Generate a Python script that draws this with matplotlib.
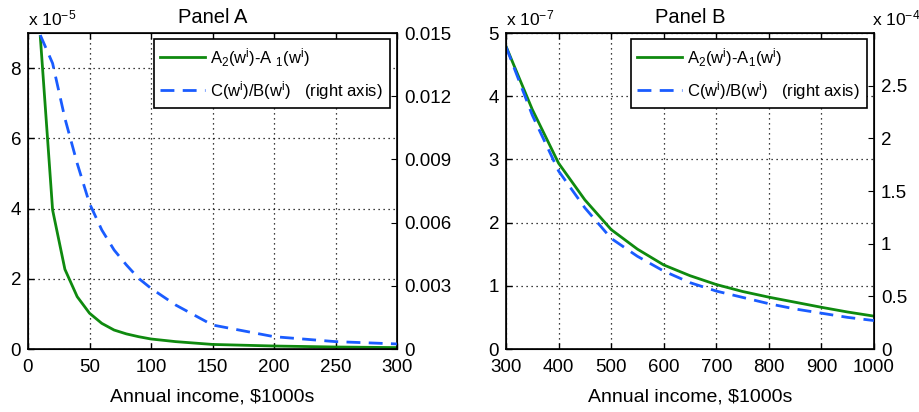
import matplotlib
matplotlib.use("Agg")
import matplotlib.pyplot as plt

plt.rcParams['font.family'] = ['Liberation Sans', 'DejaVu Sans']
plt.rcParams['mathtext.fontset'] = 'custom'
plt.rcParams['mathtext.rm'] = 'Liberation Sans'
plt.rcParams['mathtext.it'] = 'Liberation Sans'

# Panel A data (income in $1000s)
xa = [10, 20, 30, 40, 50, 60, 70, 80, 90, 100, 120, 150, 200, 250, 300]
ya_green = [8.9, 3.96, 2.27, 1.49, 1.02, 0.73, 0.54, 0.43, 0.35, 0.285, 0.21, 0.13, 0.085, 0.057, 0.04]  # x 1e-5
ya_blue = [0.0149, 0.01356, 0.01095, 0.00881, 0.00691, 0.00565, 0.0047, 0.00399, 0.00335, 0.00288,
           0.00209, 0.00114, 0.000585, 0.00035, 0.00024]

# Panel B data
xb = [300, 350, 400, 450, 500, 550, 600, 650, 700, 750, 800, 850, 900, 950, 1000]
yb_green = [4.79, 3.79, 2.94, 2.36, 1.89, 1.58, 1.33, 1.16, 1.02, 0.91, 0.82, 0.74, 0.66, 0.585, 0.52]  # x 1e-7
yb_blue = [2.87, 2.22, 1.69, 1.34, 1.05, 0.88, 0.74, 0.63, 0.55, 0.49, 0.43, 0.38, 0.34, 0.30, 0.27]  # x 1e-4

GREEN = '#0f8a0f'
BLUE = '#1a5cff'
FS = 13.5

fig = plt.figure(figsize=(9.2, 4.12), dpi=100)

def style(ax):
    ax.tick_params(axis='both', direction='in', length=4, labelsize=FS, width=1)
    ax.tick_params(axis='x', top=True, pad=7)
    ax.tick_params(axis='y', right=True, pad=5)
    for s in ax.spines.values():
        s.set_linewidth(1.2)

def legend(ax, h, l):
    leg = ax.legend(h, l, loc='upper right', bbox_to_anchor=(0.98, 0.98), fontsize=12,
                    frameon=True, fancybox=False, edgecolor='black', framealpha=1, handlelength=2.7,
                    handletextpad=0.3, borderpad=0.4, labelspacing=0.6, borderaxespad=0)
    leg.get_frame().set_linewidth(1.2)
    return leg

# ---------- Panel A ----------
axA = fig.add_axes([28/920, 1-349/412, (397-28)/920, (349-33)/412])
axA.plot(xa, ya_green, color=GREEN, lw=2, label=r'A$_2$(w$^\mathrm{i}$)-A $_1$(w$^\mathrm{i}$)')
axA.set_xlim(0, 300)
axA.set_ylim(0, 9)
axA.set_xticks([0, 50, 100, 150, 200, 250, 300])
axA.set_yticks([0, 2, 4, 6, 8])
axA.grid(True, linestyle=(0, (1, 3)), color='black', lw=0.9)
style(axA)
axA.set_xlabel('Annual income, $1000s', fontsize=FS+0.5, labelpad=9)
axA.set_title('Panel A', fontsize=FS+1, pad=7)
axA.text(0, 1.015, r'x 10$^{-5}$', transform=axA.transAxes, fontsize=FS-1, ha='left', va='bottom')
axA2 = axA.twinx()
axA2.plot(xa, ya_blue, color=BLUE, lw=2, dashes=(5, 3), label=r'C(w$^\mathrm{i}$)/B(w$^\mathrm{i}$)   (right axis)')
axA2.set_ylim(0, 0.015)
axA2.set_yticks([0, 0.003, 0.006, 0.009, 0.012, 0.015])
axA2.set_yticklabels(['0', '0.003', '0.006', '0.009', '0.012', '0.015'])
axA2.tick_params(direction='in', length=4, labelsize=FS, pad=5)
h1, l1 = axA.get_legend_handles_labels()
h2, l2 = axA2.get_legend_handles_labels()
legend(axA2, h1 + h2, l1 + l2)

# ---------- Panel B ----------
axB = fig.add_axes([506/920, 1-349/412, (874-506)/920, (349-33)/412])
axB.plot(xb, yb_green, color=GREEN, lw=2, label=r'A$_2$(w$^\mathrm{i}$)-A$_1$(w$^\mathrm{i}$)')
axB.set_xlim(300, 1000)
axB.set_ylim(0, 5)
axB.set_xticks(range(300, 1001, 100))
axB.set_yticks([0, 1, 2, 3, 4, 5])
axB.grid(True, linestyle=(0, (1, 3)), color='black', lw=0.9)
style(axB)
axB.set_xlabel('Annual income, $1000s', fontsize=FS+0.5, labelpad=9)
axB.set_title('Panel B', fontsize=FS+1, pad=7)
axB.text(0, 1.015, r'x 10$^{-7}$', transform=axB.transAxes, fontsize=FS-1, ha='left', va='bottom')
axB2 = axB.twinx()
axB2.plot(xb, yb_blue, color=BLUE, lw=2, dashes=(5, 3), label=r'C(w$^\mathrm{i}$)/B(w$^\mathrm{i}$)   (right axis)')
axB2.set_ylim(0, 3)
axB2.set_yticks([0, 0.5, 1, 1.5, 2, 2.5])
axB2.set_yticklabels(['0', '0.5', '1', '1.5', '2', '2.5'])
axB2.tick_params(direction='in', length=4, labelsize=FS, pad=5)
axB2.text(0.995, 1.015, r'x 10$^{-4}$', transform=axB2.transAxes, fontsize=FS-1, ha='left', va='bottom')
h1, l1 = axB.get_legend_handles_labels()
h2, l2 = axB2.get_legend_handles_labels()
legend(axB2, h1 + h2, l1 + l2)

fig.savefig('out.png', dpi=100)
